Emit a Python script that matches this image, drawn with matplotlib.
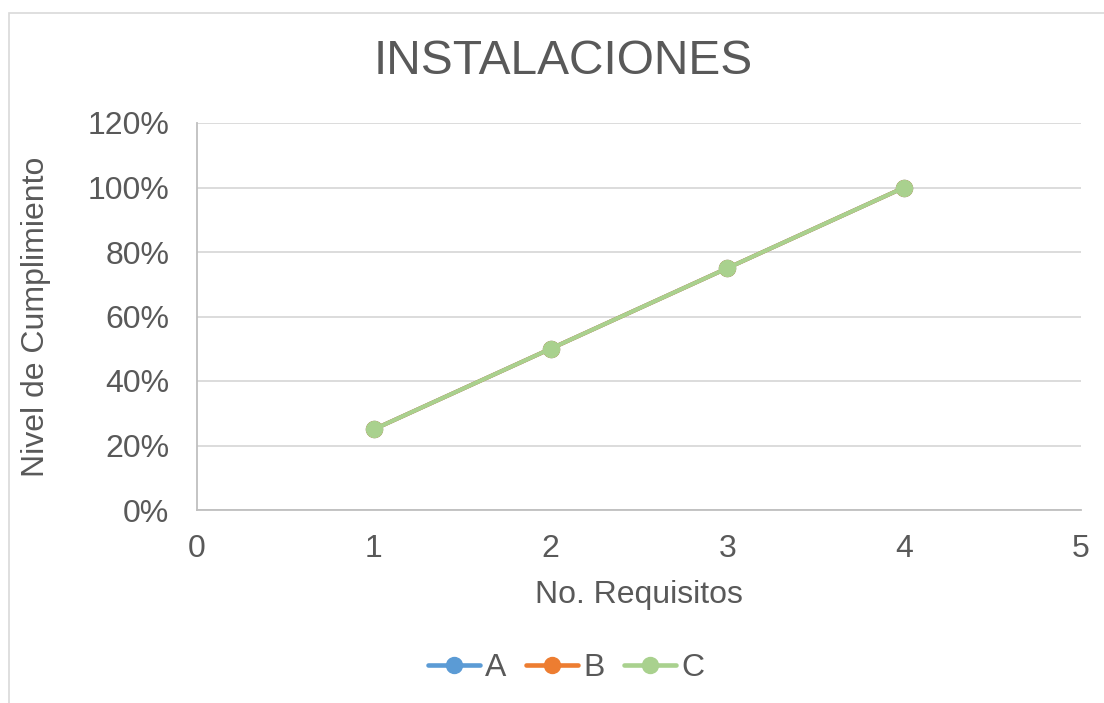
import matplotlib.pyplot as plt
from matplotlib.patches import Rectangle
from matplotlib.ticker import PercentFormatter

# datos de cumplimiento por número de requisitos
requisitos = [1, 2, 3, 4]
serie_a = [0.25, 0.50, 0.75, 1.00]
serie_b = [0.25, 0.50, 0.75, 1.00]
serie_c = [0.25, 0.50, 0.75, 1.00]
nombres = ["A", "B", "C"]
colores = ["#5B9BD5", "#ED7D31", "#A9D18E"]

plt.rcParams['font.family'] = ['Liberation Sans', 'DejaVu Sans']
gris = "#595959"

fig = plt.figure(figsize=(11.04, 7.03), dpi=100)
# marco del gráfico
fig.patches.append(Rectangle((8.5 / 1104, -0.1), 1.2, 1 - 12.5 / 703 + 0.1,
                             transform=fig.transFigure, fill=False,
                             edgecolor="#d9d9d9", linewidth=1.2))

ax = fig.add_axes([197 / 1104, 1 - 510 / 703, (1081 - 197) / 1104, (510 - 123) / 703])

for serie, nombre, color in zip([serie_a, serie_b, serie_c], nombres, colores):
    ax.plot(requisitos, serie, color=color, lw=2.9, marker="o", ms=11.5,
            label=nombre, solid_capstyle="round")

ax.set_xlim(0, 5)
ax.set_ylim(0, 1.2)
ax.set_xticks(range(0, 6))
ax.set_yticks([0, 0.2, 0.4, 0.6, 0.8, 1.0, 1.2])
ax.yaxis.set_major_formatter(PercentFormatter(1.0, decimals=0))
ax.grid(axis="y", color="#d9d9d9", lw=1.3)
ax.set_axisbelow(True)
for lado in ["top", "right"]:
    ax.spines[lado].set_visible(False)
for lado in ["left", "bottom"]:
    ax.spines[lado].set_color("#bfbfbf")
    ax.spines[lado].set_linewidth(1.3)
ax.tick_params(length=0, labelsize=23, labelcolor=gris)
ax.tick_params(axis="x", pad=17)
ax.tick_params(axis="y", pad=20)

ax.set_xlabel("No. Requisitos", fontsize=23, color=gris, labelpad=12)
ax.set_ylabel("Nivel de Cumplimiento", fontsize=23, color=gris, labelpad=26)
fig.text(563 / 1104, 1 - 62 / 703, "INSTALACIONES", fontsize=34.5, color=gris,
         ha="center", va="center")

leg = fig.legend(loc="center", bbox_to_anchor=(566 / 1104, 1 - 668 / 703), ncol=3,
                 frameon=False, fontsize=23, handlelength=1.65, columnspacing=0.6,
                 handletextpad=0.15, labelcolor=gris)
for linea in leg.get_lines():
    linea.set_linewidth(3.3)

fig.savefig("out.png", dpi=100)
